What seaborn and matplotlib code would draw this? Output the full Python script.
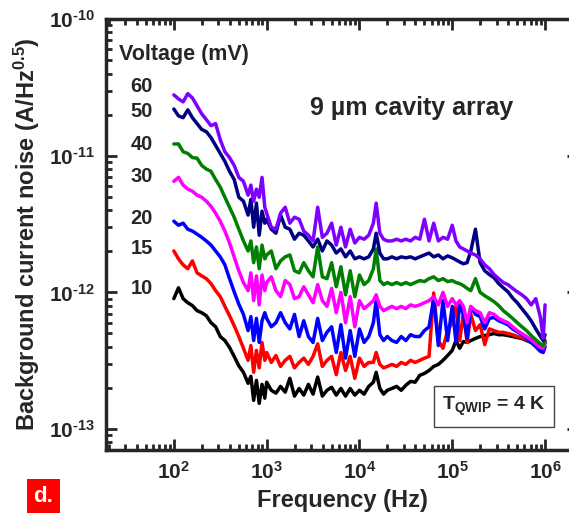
import numpy as np
import pandas as pd
import matplotlib
matplotlib.use("Agg")
import matplotlib.pyplot as plt
import seaborn as sns
from matplotlib.ticker import LogLocator, FuncFormatter, NullFormatter

# -----------------------------
# DATA
# noise values in pA/Hz^0.5
# -----------------------------

log_freq = [2.00, 2.05, 2.10, 2.15, 2.20, 2.25, 2.30, 2.35, 2.40, 2.45, 2.50, 2.55, 2.60, 2.65, 2.70, 2.75, 2.80,
            2.83, 2.86, 2.89, 2.92, 2.95, 2.98,
            3.00, 3.05, 3.10, 3.15, 3.20, 3.25, 3.30, 3.35, 3.40, 3.45, 3.50, 3.55,
            3.60, 3.65, 3.70, 3.75, 3.80, 3.85, 3.90, 3.95, 4.00, 4.05, 4.10, 4.15,
            4.18, 4.22, 4.26,
            4.30, 4.35, 4.40, 4.45, 4.50, 4.55, 4.60, 4.65, 4.70, 4.75, 4.80, 4.85, 4.90, 4.95, 5.00,
            5.04, 5.08, 5.12, 5.16,
            5.20, 5.25, 5.30, 5.35, 5.40, 5.45, 5.50, 5.55, 5.60, 5.65, 5.70, 5.75, 5.80, 5.85, 5.90, 5.95,
            5.98, 6.00]

voltages = ["10", "15", "20", "30", "40", "50", "60"]
colors = ["#000000", "#ff0000", "#0000ff", "#ff00ff", "#008000", "#000080", "#8000ff"]

noise_10 = [0.90, 1.08, 0.90, 0.84, 0.80, 0.735, 0.71, 0.675, 0.60, 0.56, 0.475, 0.444, 0.395, 0.34, 0.29, 0.26, 0.216,
            0.243, 0.162, 0.227, 0.154, 0.212, 0.168,
            0.22, 0.192, 0.183, 0.205, 0.186, 0.235, 0.174, 0.198, 0.177, 0.212, 0.18, 0.24,
            0.174, 0.192, 0.202, 0.177, 0.198, 0.174, 0.198, 0.177, 0.192, 0.18, 0.205, 0.22,
            0.26, 0.198, 0.18,
            0.192, 0.198, 0.205, 0.192, 0.209, 0.223, 0.22, 0.247, 0.255, 0.268, 0.287, 0.297, 0.318, 0.345, 0.376,
            0.444, 0.39, 0.437, 0.43,
            0.444, 0.46, 0.475, 0.483, 0.49, 0.50, 0.49, 0.49, 0.483, 0.475, 0.467, 0.46, 0.444, 0.43, 0.415, 0.39,
            0.376, 0.43]

noise_15 = [2.01, 1.76, 1.59, 1.49, 1.70, 1.39, 1.32, 1.26, 1.16, 1.03, 0.93, 0.79, 0.675, 0.57, 0.475, 0.39, 0.318,
            0.408, 0.26, 0.376, 0.28, 0.43, 0.318,
            0.363, 0.307, 0.345, 0.287, 0.318, 0.34, 0.28, 0.307, 0.33, 0.297, 0.34, 0.42,
            0.287, 0.318, 0.34, 0.25, 0.363, 0.268, 0.34, 0.235, 0.33, 0.287, 0.307, 0.307,
            0.363, 0.297, 0.28,
            0.287, 0.297, 0.287, 0.307, 0.297, 0.318, 0.307, 0.318, 0.33, 0.34, 0.99, 0.444, 0.39, 0.525, 0.60,
            0.79, 0.444, 0.71, 0.43,
            0.69, 0.525, 0.58, 0.415, 0.54, 0.525, 0.51, 0.51, 0.50, 0.49, 0.475, 0.467, 0.45, 0.437, 0.415, 0.40,
            0.382, 0.444]

noise_20 = [3.32, 3.10, 3.21, 2.90, 2.81, 2.67, 2.53, 2.38, 2.22, 2.01, 1.82, 1.59, 1.26, 1.01, 0.82, 0.69, 0.525,
            0.665, 0.444, 0.645, 0.43, 0.62, 0.71,
            0.645, 0.56, 0.60, 0.71, 0.60, 0.54, 0.69, 0.475, 0.62, 0.475, 0.43, 0.645,
            0.444, 0.51, 0.56, 0.363, 0.58, 0.33, 0.525, 0.34, 0.54, 0.43, 0.475, 0.60,
            0.87, 0.49, 0.444,
            0.475, 0.444, 0.43, 0.475, 0.444, 0.49, 0.475, 0.475, 0.525, 0.56, 0.90, 0.408, 0.87, 0.444, 0.79,
            0.43, 0.82, 0.69, 0.46,
            0.78, 0.69, 0.665, 0.54, 0.645, 0.655, 0.62, 0.60, 0.58, 0.54, 0.515, 0.49, 0.46, 0.43, 0.40, 0.37,
            0.363, 0.40]

noise_30 = [6.5, 6.95, 6.1, 5.7, 5.5, 5.15, 4.97, 4.65, 4.27, 3.8, 3.32, 2.81, 2.30, 1.82, 1.44, 1.18, 1.03,
            1.39, 0.87, 1.32, 0.81, 1.34, 1.03,
            1.18, 1.30, 1.03, 0.93, 1.22, 1.14, 0.90, 0.93, 1.10, 0.96, 0.84, 1.14,
            0.87, 0.79, 1.07, 0.71, 1.00, 0.60, 0.93, 0.56, 0.87, 0.76, 0.81, 0.87,
            0.96, 0.79, 0.735,
            0.76, 0.79, 0.76, 0.79, 0.76, 0.81, 0.79, 0.81, 0.84, 0.87, 0.93, 0.81, 1.00, 0.79, 0.90,
            0.81, 0.87, 0.79, 0.60,
            0.79, 0.735, 0.71, 0.60, 0.71, 0.69, 0.645, 0.62, 0.60, 0.56, 0.525, 0.50, 0.475, 0.45, 0.42, 0.395,
            0.39, 0.43]

noise_40 = [12.2, 12.2, 10.7, 10.4, 9.7, 9.6, 8.5, 8.0, 7.7, 6.7, 5.9, 4.97, 4.2, 3.55, 2.9, 2.38, 2.01,
            2.38, 1.65, 2.15, 1.49, 2.22, 1.76,
            1.88, 2.01, 1.49, 1.70, 1.82, 1.88, 1.44, 1.39, 1.65, 1.44, 1.30, 2.15,
            1.30, 1.26, 1.65, 1.10, 1.54, 0.96, 1.44, 0.93, 1.34, 1.14, 1.22, 1.49,
            2.08, 1.22, 1.14,
            1.18, 1.14, 1.18, 1.14, 1.18, 1.14, 1.18, 1.22, 1.20, 1.26, 1.30, 1.22, 1.26, 1.20, 1.22,
            1.18, 1.16, 1.12, 1.07,
            1.03, 1.26, 1.00, 0.945, 0.90, 0.855, 0.80, 0.735, 0.69, 0.645, 0.60, 0.56, 0.525, 0.483, 0.45, 0.42,
            0.408, 0.444]

noise_50 = [22.0, 19.6, 19.0, 21.7, 19.0, 17.2, 15.6, 15.0, 13.6, 11.9, 10.4, 9.1, 7.7, 6.7, 4.97, 4.65, 3.68,
            4.8, 3.0, 4.5, 2.62, 3.93, 3.21,
            3.43, 2.9, 2.71, 3.68, 3.0, 2.9, 2.45, 2.71, 2.62, 2.38, 2.15, 2.45,
            2.01, 2.38, 2.22, 1.94, 2.08, 1.82, 2.01, 1.76, 1.82, 1.76, 1.82, 2.08,
            2.71, 1.94, 1.76,
            1.76, 1.82, 1.76, 1.82, 1.79, 1.82, 1.76, 1.82, 1.88, 1.94, 1.82, 1.88, 1.76, 1.85, 1.79,
            1.73, 1.67, 1.62, 1.65,
            2.01, 2.9, 1.65, 1.44, 1.35, 1.28, 1.16, 1.08, 1.01, 0.91, 0.84, 0.76, 0.69, 0.62, 0.54, 0.475,
            0.444, 0.49]

noise_60 = [27.9, 26.1, 24.8, 28.5, 26.5, 23.2, 20.3, 18.4, 16.6, 17.2, 13.1, 10.7, 9.7, 8.5, 6.95, 6.5, 5.15,
            6.1, 4.65, 5.7, 4.97, 6.95, 4.2,
            3.8, 3.0, 2.9, 3.8, 4.2, 3.21, 3.55, 3.43, 2.81, 2.62, 2.38, 4.2,
            2.53, 2.71, 3.21, 2.22, 3.0, 2.15, 2.9, 2.30, 2.53, 2.45, 2.62, 3.21,
            4.5, 2.71, 2.45,
            2.38, 2.38, 2.45, 2.38, 2.45, 2.38, 2.53, 2.45, 3.43, 2.38, 3.21, 2.38, 2.53, 2.45, 3.1,
            2.38, 2.15, 2.08, 2.01,
            1.94, 1.88, 1.76, 1.59, 1.49, 1.35, 1.26, 1.18, 1.14, 1.07, 1.01, 0.96, 0.90, 0.81, 0.90, 0.655,
            0.46, 0.81]

all_noise = [noise_10, noise_15, noise_20, noise_30, noise_40, noise_50, noise_60]

# -----------------------------
# BUILD LONG TABLE
# -----------------------------

freq = 10 ** np.array(log_freq)
frames = []
for v, vals in zip(voltages, all_noise):
    frames.append(pd.DataFrame({"freq": freq,
                                "noise": np.array(vals) * 1e-12,
                                "voltage": v}))
df = pd.concat(frames, ignore_index=True)

# -----------------------------
# STYLE
# -----------------------------

sns.set_style("ticks")
plt.rcParams["font.family"] = ["Liberation Sans", "DejaVu Sans"]
plt.rcParams["font.weight"] = "bold"
plt.rcParams["mathtext.fontset"] = "custom"
plt.rcParams["mathtext.rm"] = "Liberation Sans:bold"
plt.rcParams["mathtext.bf"] = "Liberation Sans:bold"
plt.rcParams["mathtext.it"] = "Liberation Sans:bold"

fig = plt.figure(figsize=(5.69, 5.18), dpi=100)
ax = fig.add_axes([0.186, 0.131, 0.83, 0.832])

sns.lineplot(data=df, x="freq", y="noise", hue="voltage", hue_order=voltages,
             palette=colors, estimator=None, legend=False, linewidth=2.5, ax=ax)

ax.set_xscale("log")
ax.set_yscale("log")
ax.set_xlim(18.5, 2.27e6)
ax.set_ylim(7.0e-14, 1e-10)

ax.xaxis.set_major_locator(LogLocator(base=10, numticks=20))
ax.xaxis.set_minor_locator(LogLocator(base=10, subs=np.arange(2, 10), numticks=100))
ax.yaxis.set_major_locator(LogLocator(base=10, numticks=20))
ax.yaxis.set_minor_locator(LogLocator(base=10, subs=np.arange(2, 10), numticks=100))
fmt = FuncFormatter(lambda v, p: r"$10^{\text{%d}}$" % round(np.log10(v)))
ax.xaxis.set_major_formatter(fmt)
ax.yaxis.set_major_formatter(fmt)
ax.xaxis.set_minor_formatter(NullFormatter())
ax.yaxis.set_minor_formatter(NullFormatter())

ax.tick_params(which="both", direction="in", top=True, right=True, width=2, labelsize=15)
ax.tick_params(which="major", length=8, pad=8)
ax.tick_params(which="minor", length=4.5)
for s in ax.spines.values():
    s.set_linewidth(2.5)

ax.set_xlabel("Frequency (Hz)", fontsize=17, fontweight="bold", labelpad=4)
ax.set_ylabel(r"Background current noise (A/Hz$^{0.5}$)", fontsize=17, fontweight="bold", labelpad=5)

# -----------------------------
# ANNOTATIONS
# -----------------------------

label_y = [0.374, 0.469, 0.538, 0.635, 0.709, 0.785, 0.843]
for v, y in zip(voltages, label_y):
    ax.text(0.0756, y, v, transform=ax.transAxes, fontsize=14.5, fontweight="bold",
            ha="center", va="center")
ax.text(0.166, 0.919, "Voltage (mV)", transform=ax.transAxes, fontsize=15.5,
        fontweight="bold", ha="center", va="center")
ax.text(0.648, 0.794, "9 µm cavity array", transform=ax.transAxes, fontsize=18,
        fontweight="bold", ha="center", va="center")
ax.text(0.822, 0.102, r"T$_{\mathbf{QWIP}}$ = 4 K", transform=ax.transAxes, fontsize=14,
        fontweight="bold", ha="center", va="center",
        bbox=dict(boxstyle="square,pad=0.45", facecolor="white", edgecolor="#444444", linewidth=1))

fig.text(0.076, 0.022, "d.", color="white", fontsize=16, fontweight="bold", ha="center", va="bottom",
         bbox=dict(boxstyle="square,pad=0.3", facecolor="#ff0000", edgecolor="none"))

fig.savefig("out.png", dpi=100)
